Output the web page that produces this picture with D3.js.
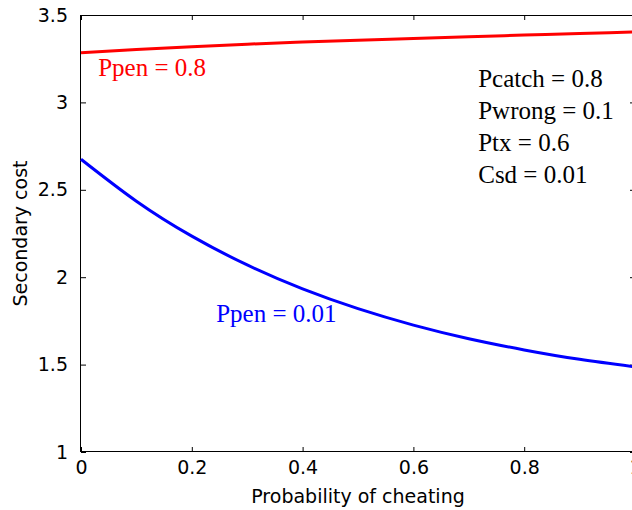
<!DOCTYPE html>
<html lang="en">
<head>
<meta charset="UTF-8">
<title>Secondary cost</title>
<script src="https://d3js.org/d3.v7.min.js"></script>
<style>
  body { margin: 0; background: #fff; }
  .tick text { font-family: "DejaVu Sans", sans-serif; font-size: 19px; fill: #000; }
  .tick line { stroke: #000; }
</style>
</head>
<body>
<div id="chart"></div>
<script>
// probability of cheating (x) and secondary cost for each Ppen value
var pCheat   = [0, 0.1, 0.2, 0.3, 0.4, 0.5, 0.6, 0.7, 0.8, 0.9, 1.0];
var costHigh = [3.284, 3.303, 3.319, 3.333, 3.345, 3.356, 3.366, 3.376, 3.385, 3.394, 3.403]; // Ppen = 0.8
var costLow  = [2.675, 2.435, 2.235, 2.070, 1.933, 1.820, 1.726, 1.648, 1.584, 1.530, 1.487]; // Ppen = 0.01

var xTicks = [0, 0.2, 0.4, 0.6, 0.8, 1];
var yTicks = [1, 1.5, 2, 2.5, 3, 3.5];
var params = ["Pcatch = 0.8", "Pwrong = 0.1", "Ptx = 0.6", "Csd = 0.01"];

var margin = {top: 15, left: 81},
    width = 554,
    height = 437;

var svg = d3.select("#chart")
  .append("svg")
    .attr("width", 632)
    .attr("height", 510);

var g = svg.append("g")
    .attr("transform", "translate(" + margin.left + "," + margin.top + ")");

var x = d3.scaleLinear().domain([0, 1]).range([0, width]);
var y = d3.scaleLinear().domain([1, 3.5]).range([height, 0]);

// axes, ticks pointing inward
g.append("g")
    .attr("transform", "translate(0," + height + ")")
    .call(d3.axisBottom(x).tickValues(xTicks).tickSize(-5).tickPadding(9).tickFormat(String))
    .select(".domain").remove();
g.append("g")
    .call(d3.axisTop(x).tickValues(xTicks).tickSize(-5).tickFormat(""))
    .select(".domain").remove();
g.append("g")
    .call(d3.axisLeft(y).tickValues(yTicks).tickSize(-5).tickPadding(13).tickFormat(String))
    .select(".domain").remove();
g.append("g")
    .attr("transform", "translate(" + width + ",0)")
    .call(d3.axisRight(y).tickValues(yTicks).tickSize(-5).tickFormat(""))
    .select(".domain").remove();

// box
g.append("rect")
    .attr("x", -0.5).attr("y", 0.5)
    .attr("width", width).attr("height", height - 1)
    .attr("fill", "none")
    .attr("stroke", "#000")
    .attr("stroke-width", 1);

var line = d3.line()
    .x(function(d, i) { return x(pCheat[i]); })
    .y(function(d) { return y(d); })
    .curve(d3.curveNatural);

g.append("path")
    .datum(costHigh)
    .attr("fill", "none")
    .attr("stroke", "#ff0000")
    .attr("stroke-width", 3)
    .attr("d", line);

g.append("path")
    .datum(costLow)
    .attr("fill", "none")
    .attr("stroke", "#0000ff")
    .attr("stroke-width", 3)
    .attr("d", line);

// curve labels
g.append("text")
    .attr("x", x(0.031)).attr("y", y(3.151))
    .style("font-family", "'Liberation Serif', serif")
    .style("font-size", "25px")
    .attr("fill", "#ff0000")
    .text("Ppen = 0.8");

g.append("text")
    .attr("x", x(0.244)).attr("y", y(1.744))
    .style("font-family", "'Liberation Serif', serif")
    .style("font-size", "25px")
    .attr("fill", "#0000ff")
    .text("Ppen = 0.01");

// parameter block
g.append("g")
  .selectAll("text")
  .data(params)
  .enter()
  .append("text")
    .attr("x", x(0.717))
    .attr("y", function(d, i) { return y(3.088) + i * 32; })
    .style("font-family", "'Liberation Serif', serif")
    .style("font-size", "25px")
    .attr("fill", "#000")
    .text(function(d) { return d; });

// axis titles
svg.append("text")
    .attr("x", margin.left + width / 2)
    .attr("y", 503)
    .style("text-anchor", "middle")
    .style("font-family", "'DejaVu Sans', sans-serif")
    .style("font-size", "19px")
    .text("Probability of cheating");

svg.append("text")
    .attr("transform", "translate(27," + (margin.top + height / 2) + ") rotate(-90)")
    .style("text-anchor", "middle")
    .style("font-family", "'DejaVu Sans', sans-serif")
    .style("font-size", "19px")
    .text("Secondary cost");
</script>
</body>
</html>
